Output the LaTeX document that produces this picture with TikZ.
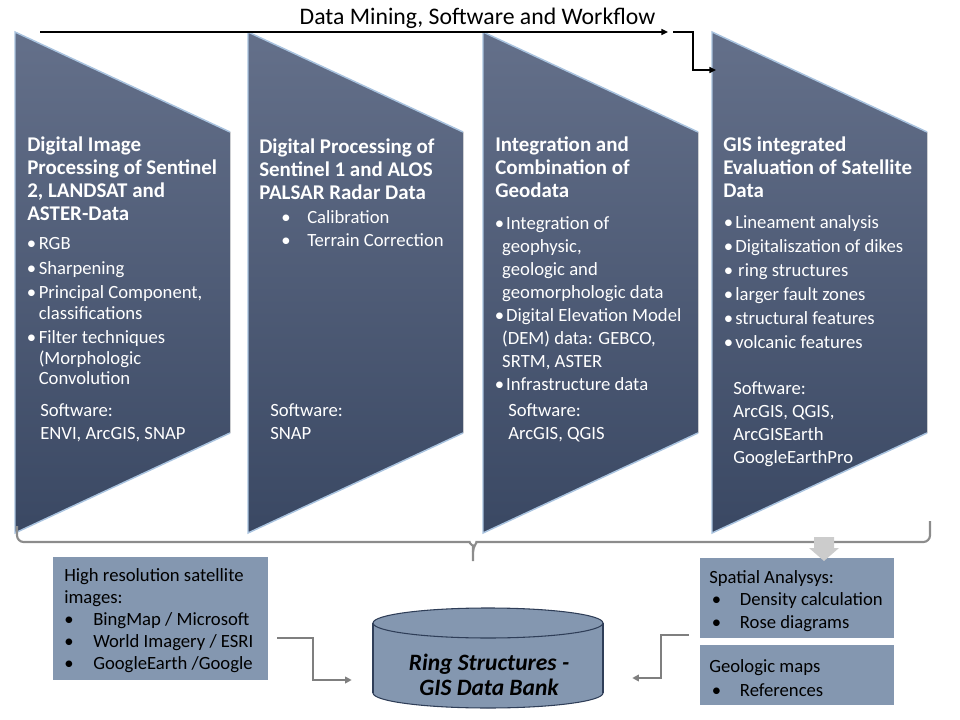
\documentclass[tikz,border=0pt]{standalone}
\usepackage{fontspec}
\setmainfont{Carlito}
\usetikzlibrary{arrows.meta,fit}

\definecolor{coltop}{HTML}{64708A}
\definecolor{colbot}{HTML}{3A4863}
\definecolor{coledge}{HTML}{A9C3DF}
\definecolor{boxfill}{HTML}{8497B0}
\definecolor{banknavy}{HTML}{2F3E58}
\definecolor{linkgray}{HTML}{7F7F7F}
\definecolor{bracegray}{HTML}{8C8C8C}

\newcommand{\tb}[1]{\makebox[#1][l]{•}}

\tikzset{
  firstline/.style={anchor=north west, yshift=14pt, inner sep=0, align=left,
    execute at begin node={\rule{0pt}{14pt}}},
  colshape/.style={top color=coltop, bottom color=colbot},
  coledgeline/.style={draw=coledge, line width=1.1pt},
  headtxt/.style={firstline, text=white,
    font=\bfseries\fontsize{15.7}{17.25}\selectfont},
  bodytxt/.style={firstline, text=white,
    font=\fontsize{14}{15.4}\selectfont},
  softtxt/.style={bodytxt, font=\fontsize{14}{17.25}\selectfont},
  boxtxt/.style={firstline, font=\fontsize{14}{16.5}\selectfont},
  infobox/.style={fill=boxfill, inner sep=0},
  cylfill/.style={fill=boxfill, draw=banknavy, line width=0.8pt},
  link/.style={draw=linkgray, line width=1.5pt, -{Triangle[length=5pt,width=5pt]}},
  flow/.style={line width=1.1pt, -{Triangle[length=5pt,width=4.5pt]}}
}

\begin{document}
\begin{tikzpicture}[x=0.75pt,y=-0.75pt]
    \useasboundingbox (0,0) rectangle (960,720);
    % Columns
    \foreach \x/\n in {15/a,248/b,483/c,712/d}{
      \fill[colshape] (\x,32) -- (\x+215,132) -- (\x+215,433) -- (\x,533) -- cycle;
      \draw[coledgeline] (\x+215,433) -- (\x,533) -- (\x,32) -- (\x+215,132);
      \coordinate (top\n) at (\x,32);
      \coordinate (mid\n) at (\x,70);
    }
    % Workflow arrow
    \coordinate (flowstart) at (40,32);
    \coordinate (flowend) at (668,32);
    \coordinate (elbow) at (673,32);
    \draw[flow] (flowstart) -- (flowend);
    \draw[flow] (elbow) -- ++(20,0) |- ([xshift=3]midd);
    \node[firstline, anchor=north, font=\fontsize{17.8}{20}\selectfont] (title) at (477.5,24) {Data Mining, Software and Workflow};
    % Column texts
    \node[headtxt] (h1) at (27,155) {Digital Image\\Processing of Sentinel\\2, LANDSAT and\\ASTER-Data};
    \node[bodytxt] (b1) at (26.5,256) {\tb{9pt}RGB\\[3pt]\tb{9pt}Sharpening\\[3pt]\tb{9pt}Principal Component,\\\hspace*{9pt}classifications\\[3pt]\tb{9pt}Filter techniques\\\hspace*{9pt}(Morphologic\\\hspace*{9pt}Convolution};
    \node[softtxt] (s1) at (40,422) {Software:\\ENVI, ArcGIS, SNAP};
    \node[headtxt] (h2) at (259,157) {Digital Processing of\\Sentinel 1 and ALOS\\PALSAR Radar Data};
    \node[softtxt] (b2) at (281,229) {\tb{19.5pt}Calibration\\\tb{19.5pt}Terrain Correction};
    \node[softtxt] (s2) at (270,422) {Software:\\SNAP};
    \node[headtxt] (h3) at (495,155) {Integration and\\Combination of\\Geodata};
    \node[softtxt] (b3) at (494.5,234.5) {\tb{8.5pt}Integration of\\\hspace*{5.6pt}geophysic,\\\hspace*{5.6pt}geologic and\\\hspace*{5.6pt}geomorphologic data\\\tb{8.5pt}Digital Elevation Model\\\hspace*{5.6pt}(DEM) data: GEBCO,\\\hspace*{5.6pt}SRTM, ASTER\\\tb{8.5pt}Infrastructure data};
    \node[softtxt] (s3) at (508,422) {Software:\\ArcGIS, QGIS};
    \node[headtxt] (h4) at (723,155) {GIS integrated\\Evaluation of Satellite\\Data};
    \node[bodytxt, font=\fontsize{14}{18}\selectfont] (b4) at (723.7,233.5) {\tb{8.5pt}Lineament analysis\\\tb{8.5pt}Digitaliszation of dikes\\\tb{10.7pt}ring structures\\\tb{8.5pt}larger fault zones\\\tb{8.5pt}structural features\\\tb{8.5pt}volcanic features};
    \node[softtxt] (s4) at (733,400) {Software:\\ArcGIS, QGIS,\\ArcGISEarth\\GoogleEarthPro};
    % Brace
    \draw[bracegray, line width=1.6pt, rounded corners=5] (17,526) |- (463,542) to[out=0,in=90] (473,552) -- (473,561);
    \draw[bracegray, line width=1.6pt, rounded corners=5] (473,552) to[out=90,in=180] (483,542) -| (930,521);
    % Boxes
    \node[infobox, fit={(53,557) (268,680)}] (hires) {};
    \node[boxtxt] (hirestxt) at (64,587) {High resolution satellite\\images:\\\tb{21.75pt}BingMap / Microsoft\\\tb{21.75pt}World Imagery / ESRI\\\tb{21.75pt}GoogleEarth /Google};
    \node[infobox, fit={(700,558) (894,638)}] (spatial) {};
    \node[boxtxt, font=\fontsize{14}{16.9}\selectfont] (spatialtxt) at (709,588.5) {Spatial Analysys:\\\hspace*{2pt}\tb{21pt}Density calculation\\\hspace*{2pt}\tb{21pt}Rose diagrams};
    \node[infobox, fit={(700,645) (894,705)}] (geomaps) {};
    \node[boxtxt, font=\fontsize{14}{18}\selectfont] (geomapstxt) at (709,677.5) {Geologic maps\\\hspace*{2pt}\tb{21pt}References};
    \fill[gray!40] (814,537) -- (834,537) -- (834,548) -- (839,548) -- (824,561) -- (809,548) -- (814,548) -- cycle;
    % Data bank
    \node[fit={(373,623) (603,693)}, inner sep=0] (bank) {};
    \filldraw[cylfill] (488,693) ellipse [x radius=86.25pt, y radius=11.25pt];
    \fill[boxfill] (373,623) rectangle (603,693);
    \draw[banknavy, line width=0.8pt] (373,623) -- (373,693) (603,623) -- (603,693);
    \filldraw[cylfill] (488,623) ellipse [x radius=86.25pt, y radius=11.25pt];
    \node[firstline, anchor=north, align=center, font=\bfseries\itshape\fontsize{17.6}{18.75}\selectfont] (banktxt) at (489,672) {Ring Structures -\\GIS Data Bank};
    % Links
    \draw[link] ([shift={(9,19)}]hires.east) -- ++(36,0) |- ([shift={(-21,22)}]bank.west);
    \draw[link] ([shift={(-11,-3)}]spatial.south west) -- ++(-28,0) |- ([shift={(29,20)}]bank.east);
\end{tikzpicture}
\end{document}
